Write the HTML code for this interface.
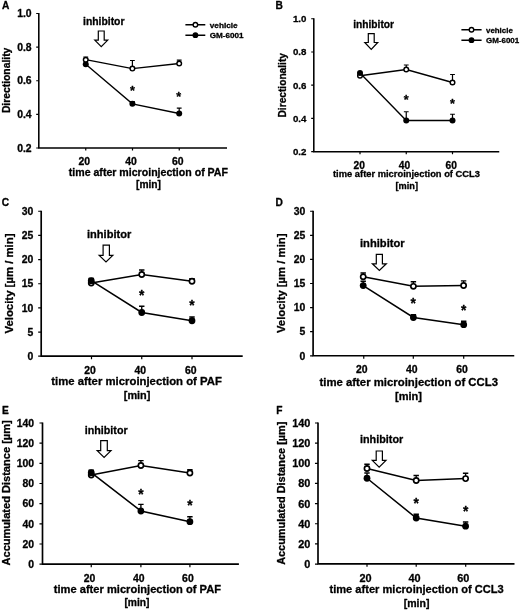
<!DOCTYPE html>
<html><head><meta charset="utf-8"><title>Figure</title>
<style>
html,body{margin:0;padding:0;background:#fff;}
svg{display:block;will-change:transform;font-family:'Liberation Sans',sans-serif;font-weight:bold;fill:#000;}
text{stroke:#000;stroke-width:0.3px;stroke-linejoin:round;}
</style></head>
<body>
<svg width="520" height="610" viewBox="0 0 520 610">
<rect width="520" height="610" fill="#fff"/>
<path d="M38.8 12.9V148M38.1 148H227" stroke="#000" stroke-width="1.55" fill="none"/>
<path d="M36.2 13.5H38.8M36.2 47.1H38.8M36.2 80.75H38.8M36.2 114.4H38.8M36.2 148H38.8M85.75 148V150.6M132.5 148V150.6M179.25 148V150.6" stroke="#000" stroke-width="1.2" fill="none"/>
<text x="31.6" y="17.22" font-size="10.4" text-anchor="end">1.0</text>
<text x="31.6" y="50.82" font-size="10.4" text-anchor="end">0.8</text>
<text x="31.6" y="84.47" font-size="10.4" text-anchor="end">0.6</text>
<text x="31.6" y="118.12" font-size="10.4" text-anchor="end">0.4</text>
<text x="31.6" y="151.72" font-size="10.4" text-anchor="end">0.2</text>
<text x="84.3" y="165.1" font-size="10.4" text-anchor="middle">20</text>
<text x="131" y="165.1" font-size="10.4" text-anchor="middle">40</text>
<text x="177.8" y="165.1" font-size="10.4" text-anchor="middle">60</text>
<text x="2" y="8.8" font-size="10.2" text-anchor="start">A</text>
<text transform="translate(9.75 80.4) rotate(-90)" font-size="10.3" text-anchor="middle" textLength="65.4" lengthAdjust="spacingAndGlyphs">Directionality</text>
<text x="68.75" y="175.5" font-size="10.5" text-anchor="start" textLength="159.25" lengthAdjust="spacingAndGlyphs">time after microinjection of PAF</text>
<text x="136" y="187.5" font-size="10.3" text-anchor="start" textLength="25" lengthAdjust="spacingAndGlyphs">[min]</text>
<text x="83" y="24.5" font-size="10.4" text-anchor="start" textLength="41.5" lengthAdjust="spacingAndGlyphs">inhibitor</text>
<path d="M98.3 31 L104.2 31 L104.2 40.1 L107.7 40.1 L101.25 46.7 L94.8 40.1 L98.3 40.1Z" fill="#fff" stroke="#000" stroke-width="1.2" stroke-linejoin="miter"/>
<path d="M132.4 103.8V101.5M130 101.5H134.8" stroke="#000" stroke-width="1.2" fill="none"/>
<path d="M179.2 113.5V108.1M176.8 108.1H181.6" stroke="#000" stroke-width="1.2" fill="none"/>
<path d="M85.75 64.3 L132.4 103.8 L179.2 113.5" stroke="#000" stroke-width="1.35" fill="none"/>
<circle cx="85.75" cy="64.3" r="3" fill="#000"/>
<circle cx="132.4" cy="103.8" r="3" fill="#000"/>
<circle cx="179.2" cy="113.5" r="3" fill="#000"/>
<path d="M85.75 59.7V57M83.35 57H88.15" stroke="#000" stroke-width="1.2" fill="none"/>
<path d="M132.4 68.6V60.5M130 60.5H134.8" stroke="#000" stroke-width="1.2" fill="none"/>
<path d="M179.2 63.5V60.1M176.8 60.1H181.6" stroke="#000" stroke-width="1.2" fill="none"/>
<path d="M85.75 59.7 L132.4 68.6 L179.2 63.5" stroke="#000" stroke-width="1.35" fill="none"/>
<circle cx="85.75" cy="59.7" r="2.3" fill="#fff" stroke="#000" stroke-width="1.45"/>
<circle cx="132.4" cy="68.6" r="2.3" fill="#fff" stroke="#000" stroke-width="1.45"/>
<circle cx="179.2" cy="63.5" r="2.3" fill="#fff" stroke="#000" stroke-width="1.45"/>
<text x="132.4" y="94.76" font-size="12.5" text-anchor="middle">*</text>
<text x="178.8" y="101.36" font-size="12.5" text-anchor="middle">*</text>
<path d="M185.4 24.7H205.3M185.4 35.2H205.3" stroke="#000" stroke-width="1.55"/>
<circle cx="195.4" cy="24.7" r="2.25" fill="#fff" stroke="#000" stroke-width="1.4"/>
<circle cx="195.4" cy="35.2" r="2.9" fill="#000"/>
<text x="209.8" y="27.6" font-size="8" text-anchor="start" textLength="27.9" lengthAdjust="spacingAndGlyphs">vehicle</text>
<text x="209.8" y="38.1" font-size="8" text-anchor="start" textLength="33.8" lengthAdjust="spacingAndGlyphs">GM-6001</text>
<path d="M313.8 18.15V151.7M313.1 151.7H499.25" stroke="#000" stroke-width="1.55" fill="none"/>
<path d="M311.2 18.75H313.8M311.2 52H313.8M311.2 85.2H313.8M311.2 118.45H313.8M311.2 151.7H313.8M360 151.7V154.3M406.25 151.7V154.3M452.5 151.7V154.3" stroke="#000" stroke-width="1.2" fill="none"/>
<text x="306.4" y="22.22" font-size="9.7" text-anchor="end">1.0</text>
<text x="306.4" y="55.47" font-size="9.7" text-anchor="end">0.8</text>
<text x="306.4" y="88.67" font-size="9.7" text-anchor="end">0.6</text>
<text x="306.4" y="121.92" font-size="9.7" text-anchor="end">0.4</text>
<text x="306.4" y="155.17" font-size="9.7" text-anchor="end">0.2</text>
<text x="359.25" y="168.75" font-size="10.2" text-anchor="middle">20</text>
<text x="404.5" y="168.75" font-size="10.2" text-anchor="middle">40</text>
<text x="451.25" y="168.75" font-size="10.2" text-anchor="middle">60</text>
<text x="275.6" y="8.6" font-size="10.2" text-anchor="start">B</text>
<text transform="translate(286 85.25) rotate(-90)" font-size="10.2" text-anchor="middle" textLength="64.5" lengthAdjust="spacingAndGlyphs">Directionality</text>
<text x="333" y="177" font-size="9.3" text-anchor="start" textLength="147" lengthAdjust="spacingAndGlyphs">time after microinjection of CCL3</text>
<text x="395.5" y="188.75" font-size="9.2" text-anchor="start" textLength="22.5" lengthAdjust="spacingAndGlyphs">[min]</text>
<text x="353.2" y="27.6" font-size="10.3" text-anchor="start" textLength="40.8" lengthAdjust="spacingAndGlyphs">inhibitor</text>
<path d="M368.3 33.7 L374.2 33.7 L374.2 42.5 L377.7 42.5 L371.25 49.4 L364.8 42.5 L368.3 42.5Z" fill="#fff" stroke="#000" stroke-width="1.2" stroke-linejoin="miter"/>

<path d="M406.25 69.5V65M403.85 65H408.65" stroke="#000" stroke-width="1.2" fill="none"/>
<path d="M452.5 82.5V74.5M450.1 74.5H454.9" stroke="#000" stroke-width="1.2" fill="none"/>
<path d="M360 75.75 L406.25 69.5 L452.5 82.5" stroke="#000" stroke-width="1.35" fill="none"/>
<circle cx="360" cy="75.75" r="2.3" fill="#fff" stroke="#000" stroke-width="1.45"/>
<circle cx="406.25" cy="69.5" r="2.3" fill="#fff" stroke="#000" stroke-width="1.45"/>
<circle cx="452.5" cy="82.5" r="2.3" fill="#fff" stroke="#000" stroke-width="1.45"/>
<path d="M406.25 120.5V111.75M403.85 111.75H408.65" stroke="#000" stroke-width="1.2" fill="none"/>
<path d="M452.5 120.5V114.25M450.1 114.25H454.9" stroke="#000" stroke-width="1.2" fill="none"/>
<path d="M360 73 L406.25 120.5 L452.5 120.5" stroke="#000" stroke-width="1.35" fill="none"/>
<circle cx="360" cy="73" r="3" fill="#000"/>
<circle cx="406.25" cy="120.5" r="3" fill="#000"/>
<circle cx="452.5" cy="120.5" r="3" fill="#000"/>
<text x="406.25" y="104.36" font-size="12.5" text-anchor="middle">*</text>
<text x="452.5" y="108.36" font-size="12.5" text-anchor="middle">*</text>
<path d="M461.4 29.8H481.6M461.4 40.2H481.6" stroke="#000" stroke-width="1.55"/>
<circle cx="471.5" cy="29.8" r="2.25" fill="#fff" stroke="#000" stroke-width="1.4"/>
<circle cx="471.5" cy="40.2" r="2.9" fill="#000"/>
<text x="486" y="32.7" font-size="8" text-anchor="start" textLength="26.8" lengthAdjust="spacingAndGlyphs">vehicle</text>
<text x="486" y="43.1" font-size="8" text-anchor="start" textLength="33.2" lengthAdjust="spacingAndGlyphs">GM-6001</text>
<path d="M41.2 210.65V356.1M40.5 356.1H242.7" stroke="#000" stroke-width="1.67" fill="none"/>
<path d="M38.17 211.25H41.2M38.17 235.4H41.2M38.17 259.55H41.2M38.17 283.75H41.2M38.17 307.9H41.2M38.17 332.05H41.2M38.17 356.2H41.2M91.5 356.1V359.13M141.75 356.1V359.13M192 356.1V359.13" stroke="#000" stroke-width="1.2" fill="none"/>
<text x="33.2" y="214.97" font-size="10.4" text-anchor="end">30</text>
<text x="33.2" y="239.12" font-size="10.4" text-anchor="end">25</text>
<text x="33.2" y="263.27" font-size="10.4" text-anchor="end">20</text>
<text x="33.2" y="287.47" font-size="10.4" text-anchor="end">15</text>
<text x="33.2" y="311.62" font-size="10.4" text-anchor="end">10</text>
<text x="33.2" y="335.77" font-size="10.4" text-anchor="end">5</text>
<text x="33.2" y="359.92" font-size="10.4" text-anchor="end">0</text>
<text x="90" y="374.1" font-size="10.4" text-anchor="middle">20</text>
<text x="140.3" y="374.1" font-size="10.4" text-anchor="middle">40</text>
<text x="190.8" y="374.1" font-size="10.4" text-anchor="middle">60</text>
<text x="1.8" y="205.5" font-size="10.2" text-anchor="start">C</text>
<text transform="translate(12.9 283.5) rotate(-90)" font-size="11.2" text-anchor="middle" textLength="100" lengthAdjust="spacingAndGlyphs">Velocity [µm / min]</text>
<text x="51.25" y="384.5" font-size="11.3" text-anchor="start" textLength="170.65" lengthAdjust="spacingAndGlyphs">time after microinjection of PAF</text>
<text x="123.8" y="399" font-size="10.9" text-anchor="start" textLength="26.6" lengthAdjust="spacingAndGlyphs">[min]</text>
<text x="87" y="238" font-size="11" text-anchor="start" textLength="44.25" lengthAdjust="spacingAndGlyphs">inhibitor</text>
<path d="M103.1 245.2 L109.4 245.2 L109.4 255.4 L112.8 255.4 L106 261.9 L99.2 255.4 L103.1 255.4Z" fill="#fff" stroke="#000" stroke-width="1.2" stroke-linejoin="miter"/>

<path d="M141.75 274.5V270M139.04 270H144.46" stroke="#000" stroke-width="1.36" fill="none"/>
<path d="M192 281.25V278.6M189.29 278.6H194.71" stroke="#000" stroke-width="1.36" fill="none"/>
<path d="M91.25 283 L141.75 274.5 L192 281.25" stroke="#000" stroke-width="1.53" fill="none"/>
<circle cx="91.25" cy="283" r="2.6" fill="#fff" stroke="#000" stroke-width="1.64"/>
<circle cx="141.75" cy="274.5" r="2.6" fill="#fff" stroke="#000" stroke-width="1.64"/>
<circle cx="192" cy="281.25" r="2.6" fill="#fff" stroke="#000" stroke-width="1.64"/>
<path d="M91.25 280.7V278.4M88.54 278.4H93.96" stroke="#000" stroke-width="1.36" fill="none"/>
<path d="M141.75 312.5V306.25M139.04 306.25H144.46" stroke="#000" stroke-width="1.36" fill="none"/>
<path d="M192 320.75V317M189.29 317H194.71" stroke="#000" stroke-width="1.36" fill="none"/>
<path d="M91.25 280.7 L141.75 312.5 L192 320.75" stroke="#000" stroke-width="1.53" fill="none"/>
<circle cx="91.25" cy="280.7" r="3.39" fill="#000"/>
<circle cx="141.75" cy="312.5" r="3.39" fill="#000"/>
<circle cx="192" cy="320.75" r="3.39" fill="#000"/>
<text x="141.75" y="299.53" font-size="13.8" text-anchor="middle">*</text>
<text x="192" y="309.53" font-size="13.8" text-anchor="middle">*</text>
<path d="M313.1 210.65V355.75M312.4 355.75H514.25" stroke="#000" stroke-width="1.67" fill="none"/>
<path d="M310.07 211.25H313.1M310.07 235.35H313.1M310.07 259.45H313.1M310.07 283.5H313.1M310.07 307.6H313.1M310.07 331.7H313.1M310.07 355.8H313.1M363.75 355.75V358.78M413.3 355.75V358.78M463.7 355.75V358.78" stroke="#000" stroke-width="1.2" fill="none"/>
<text x="305.2" y="214.97" font-size="10.4" text-anchor="end">30</text>
<text x="305.2" y="239.07" font-size="10.4" text-anchor="end">25</text>
<text x="305.2" y="263.17" font-size="10.4" text-anchor="end">20</text>
<text x="305.2" y="287.22" font-size="10.4" text-anchor="end">15</text>
<text x="305.2" y="311.32" font-size="10.4" text-anchor="end">10</text>
<text x="305.2" y="335.42" font-size="10.4" text-anchor="end">5</text>
<text x="305.2" y="359.52" font-size="10.4" text-anchor="end">0</text>
<text x="361.75" y="373.1" font-size="10.4" text-anchor="middle">20</text>
<text x="411.75" y="373.1" font-size="10.4" text-anchor="middle">40</text>
<text x="462" y="373.1" font-size="10.4" text-anchor="middle">60</text>
<text x="275.4" y="205.5" font-size="10.2" text-anchor="start">D</text>
<text transform="translate(284.7 283.3) rotate(-90)" font-size="11.2" text-anchor="middle" textLength="99.5" lengthAdjust="spacingAndGlyphs">Velocity [µm / min]</text>
<text x="319.5" y="386.25" font-size="11.3" text-anchor="start" textLength="178.5" lengthAdjust="spacingAndGlyphs">time after microinjection of CCL3</text>
<text x="395" y="399.6" font-size="11" text-anchor="start" textLength="27" lengthAdjust="spacingAndGlyphs">[min]</text>
<text x="360" y="247" font-size="11" text-anchor="start" textLength="44.6" lengthAdjust="spacingAndGlyphs">inhibitor</text>
<path d="M376.3 254.35 L382.4 254.35 L382.4 263.8 L386.3 263.8 L379.35 270.4 L372.4 263.8 L376.3 263.8Z" fill="#fff" stroke="#000" stroke-width="1.2" stroke-linejoin="miter"/>
<path d="M363.2 285.6V281.3M360.49 281.3H365.91" stroke="#000" stroke-width="1.36" fill="none"/>
<path d="M413.4 317.5V314.6M410.69 314.6H416.11" stroke="#000" stroke-width="1.36" fill="none"/>
<path d="M463.7 324.7V321.2M460.99 321.2H466.41" stroke="#000" stroke-width="1.36" fill="none"/>
<path d="M363.2 285.6 L413.4 317.5 L463.7 324.7" stroke="#000" stroke-width="1.53" fill="none"/>
<circle cx="363.2" cy="285.6" r="3.39" fill="#000"/>
<circle cx="413.4" cy="317.5" r="3.39" fill="#000"/>
<circle cx="463.7" cy="324.7" r="3.39" fill="#000"/>
<path d="M363.2 276.8V273M360.49 273H365.91" stroke="#000" stroke-width="1.36" fill="none"/>
<path d="M413.4 286.3V281.7M410.69 281.7H416.11" stroke="#000" stroke-width="1.36" fill="none"/>
<path d="M463.6 285.5V280.9M460.89 280.9H466.31" stroke="#000" stroke-width="1.36" fill="none"/>
<path d="M363.2 276.8 L413.4 286.3 L463.6 285.5" stroke="#000" stroke-width="1.53" fill="none"/>
<circle cx="363.2" cy="276.8" r="2.6" fill="#fff" stroke="#000" stroke-width="1.64"/>
<circle cx="413.4" cy="286.3" r="2.6" fill="#fff" stroke="#000" stroke-width="1.64"/>
<circle cx="463.6" cy="285.5" r="2.6" fill="#fff" stroke="#000" stroke-width="1.64"/>
<text x="413.3" y="308.43" font-size="13.8" text-anchor="middle">*</text>
<text x="463.7" y="314.83" font-size="13.8" text-anchor="middle">*</text>
<path d="M42.5 422.4V564.1M41.8 564.1H238.9" stroke="#000" stroke-width="1.67" fill="none"/>
<path d="M39.47 423H42.5M39.47 443.17H42.5M39.47 463.34H42.5M39.47 483.51H42.5M39.47 503.68H42.5M39.47 523.85H42.5M39.47 544.02H42.5M39.47 564.19H42.5M91.25 564.1V567.13M140.9 564.1V567.13M189.9 564.1V567.13" stroke="#000" stroke-width="1.2" fill="none"/>
<text x="34" y="426.72" font-size="10.4" text-anchor="end">140</text>
<text x="34" y="446.89" font-size="10.4" text-anchor="end">120</text>
<text x="34" y="467.06" font-size="10.4" text-anchor="end">100</text>
<text x="34" y="487.23" font-size="10.4" text-anchor="end">80</text>
<text x="34" y="507.4" font-size="10.4" text-anchor="end">60</text>
<text x="34" y="527.57" font-size="10.4" text-anchor="end">40</text>
<text x="34" y="547.74" font-size="10.4" text-anchor="end">20</text>
<text x="34" y="567.91" font-size="10.4" text-anchor="end">0</text>
<text x="89.5" y="581.5" font-size="10.4" text-anchor="middle">20</text>
<text x="138.8" y="581.5" font-size="10.4" text-anchor="middle">40</text>
<text x="187.9" y="581.5" font-size="10.4" text-anchor="middle">60</text>
<text x="2" y="414.2" font-size="10.2" text-anchor="start">E</text>
<text transform="translate(9.7 492.9) rotate(-90)" font-size="10.5" text-anchor="middle" textLength="145.2" lengthAdjust="spacingAndGlyphs">Accumulated Distance [µm]</text>
<text x="53.75" y="592.5" font-size="11.1" text-anchor="start" textLength="167.25" lengthAdjust="spacingAndGlyphs">time after microinjection of PAF</text>
<text x="124.4" y="605.5" font-size="10.4" text-anchor="start" textLength="25.1" lengthAdjust="spacingAndGlyphs">[min]</text>
<text x="84.8" y="433.9" font-size="11.1" text-anchor="start" textLength="42.8" lengthAdjust="spacingAndGlyphs">inhibitor</text>
<path d="M100.7 440.6 L107.3 440.6 L107.3 450.7 L111 450.7 L104.1 457.5 L97.2 450.7 L100.7 450.7Z" fill="#fff" stroke="#000" stroke-width="1.2" stroke-linejoin="miter"/>

<path d="M140.9 465.5V460.6M138.19 460.6H143.61" stroke="#000" stroke-width="1.36" fill="none"/>
<path d="M189.9 473V469.8M187.19 469.8H192.61" stroke="#000" stroke-width="1.36" fill="none"/>
<path d="M91.25 475 L140.9 465.5 L189.9 473" stroke="#000" stroke-width="1.53" fill="none"/>
<circle cx="91.25" cy="475" r="2.6" fill="#fff" stroke="#000" stroke-width="1.64"/>
<circle cx="140.9" cy="465.5" r="2.6" fill="#fff" stroke="#000" stroke-width="1.64"/>
<circle cx="189.9" cy="473" r="2.6" fill="#fff" stroke="#000" stroke-width="1.64"/>
<path d="M91.25 472.7V470.3M88.54 470.3H93.96" stroke="#000" stroke-width="1.36" fill="none"/>
<path d="M140.9 511V504.4M138.19 504.4H143.61" stroke="#000" stroke-width="1.36" fill="none"/>
<path d="M189.9 521.7V516.8M187.19 516.8H192.61" stroke="#000" stroke-width="1.36" fill="none"/>
<path d="M91.25 472.7 L140.9 511 L189.9 521.7" stroke="#000" stroke-width="1.53" fill="none"/>
<circle cx="91.25" cy="472.7" r="3.39" fill="#000"/>
<circle cx="140.9" cy="511" r="3.39" fill="#000"/>
<circle cx="189.9" cy="521.7" r="3.39" fill="#000"/>
<text x="140.9" y="498.83" font-size="13.8" text-anchor="middle">*</text>
<text x="189.9" y="509.83" font-size="13.8" text-anchor="middle">*</text>
<path d="M318 422.4V563.8M317.3 563.8H514.5" stroke="#000" stroke-width="1.67" fill="none"/>
<path d="M314.97 423H318M314.97 443.15H318M314.97 463.3H318M314.97 483.45H318M314.97 503.6H318M314.97 523.75H318M314.97 543.9H318M314.97 564.05H318M367 563.8V566.83M416.2 563.8V566.83M465.7 563.8V566.83" stroke="#000" stroke-width="1.2" fill="none"/>
<text x="310.3" y="426.9" font-size="10.9" text-anchor="end">140</text>
<text x="310.3" y="447.05" font-size="10.9" text-anchor="end">120</text>
<text x="310.3" y="467.2" font-size="10.9" text-anchor="end">100</text>
<text x="310.3" y="487.35" font-size="10.9" text-anchor="end">80</text>
<text x="310.3" y="507.5" font-size="10.9" text-anchor="end">60</text>
<text x="310.3" y="527.65" font-size="10.9" text-anchor="end">40</text>
<text x="310.3" y="547.8" font-size="10.9" text-anchor="end">20</text>
<text x="310.3" y="567.95" font-size="10.9" text-anchor="end">0</text>
<text x="365.5" y="581.7" font-size="10.9" text-anchor="middle">20</text>
<text x="414.5" y="581.7" font-size="10.9" text-anchor="middle">40</text>
<text x="463.25" y="581.7" font-size="10.9" text-anchor="middle">60</text>
<text x="276.2" y="414.2" font-size="10.2" text-anchor="start">F</text>
<text transform="translate(284.7 493.2) rotate(-90)" font-size="10.5" text-anchor="middle" textLength="143.3" lengthAdjust="spacingAndGlyphs">Accumulated Distance [µm]</text>
<text x="329.5" y="593.25" font-size="11.05" text-anchor="start" textLength="174.25" lengthAdjust="spacingAndGlyphs">time after microinjection of CCL3</text>
<text x="403.75" y="606.7" font-size="10.5" text-anchor="start" textLength="25.75" lengthAdjust="spacingAndGlyphs">[min]</text>
<text x="360" y="443.4" font-size="10.8" text-anchor="start" textLength="43.2" lengthAdjust="spacingAndGlyphs">inhibitor</text>
<path d="M376.2 451 L382.4 451 L382.4 460.3 L386 460.3 L379.15 467.2 L372.3 460.3 L376.2 460.3Z" fill="#fff" stroke="#000" stroke-width="1.2" stroke-linejoin="miter"/>
<path d="M367 478.25V473M364.29 473H369.71" stroke="#000" stroke-width="1.36" fill="none"/>
<path d="M416.2 518V514.2M413.49 514.2H418.91" stroke="#000" stroke-width="1.36" fill="none"/>
<path d="M465.6 526.2V522M462.89 522H468.31" stroke="#000" stroke-width="1.36" fill="none"/>
<path d="M367 478.25 L416.2 518 L465.6 526.2" stroke="#000" stroke-width="1.53" fill="none"/>
<circle cx="367" cy="478.25" r="3.39" fill="#000"/>
<circle cx="416.2" cy="518" r="3.39" fill="#000"/>
<circle cx="465.6" cy="526.2" r="3.39" fill="#000"/>
<path d="M367 468.5V464.2M364.29 464.2H369.71" stroke="#000" stroke-width="1.36" fill="none"/>
<path d="M416.2 480.5V475.5M413.49 475.5H418.91" stroke="#000" stroke-width="1.36" fill="none"/>
<path d="M465.6 478.6V473.3M462.89 473.3H468.31" stroke="#000" stroke-width="1.36" fill="none"/>
<path d="M367 468.5 L416.2 480.5 L465.6 478.6" stroke="#000" stroke-width="1.53" fill="none"/>
<circle cx="367" cy="468.5" r="2.6" fill="#fff" stroke="#000" stroke-width="1.64"/>
<circle cx="416.2" cy="480.5" r="2.6" fill="#fff" stroke="#000" stroke-width="1.64"/>
<circle cx="465.6" cy="478.6" r="2.6" fill="#fff" stroke="#000" stroke-width="1.64"/>
<text x="416.2" y="507.53" font-size="13.8" text-anchor="middle">*</text>
<text x="465.8" y="516.13" font-size="13.8" text-anchor="middle">*</text>
</svg>
</body></html>
